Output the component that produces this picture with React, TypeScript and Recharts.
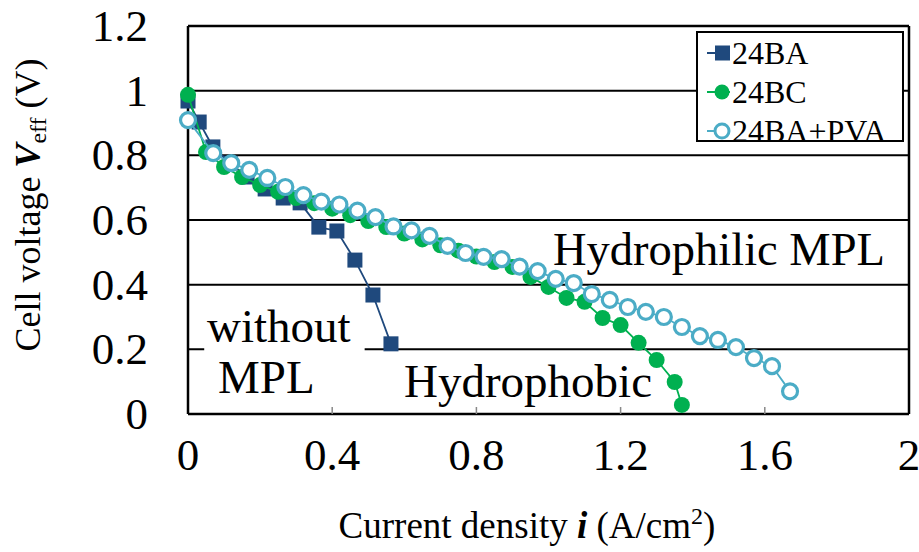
import React from "react";
import {
  ComposedChart,
  Scatter,
  XAxis,
  YAxis,
  CartesianGrid,
  ReferenceLine,
  ReferenceArea,
} from "recharts";

const FONT = "'Liberation Serif', 'Times New Roman', serif";

const xTicks = [0, 0.4, 0.8, 1.2, 1.6, 2];
const yTicks = [0, 0.2, 0.4, 0.6, 0.8, 1, 1.2];

const baX = [0, 0.031, 0.069, 0.117, 0.164, 0.214, 0.264, 0.311, 0.363, 0.413, 0.463, 0.513, 0.563];
const baY = [0.968, 0.903, 0.826, 0.776, 0.733, 0.696, 0.668, 0.653, 0.578, 0.566, 0.476, 0.368, 0.217];

const bcX = [0, 0.05, 0.1, 0.15, 0.2, 0.25, 0.3, 0.35, 0.4, 0.45, 0.5, 0.55, 0.6, 0.65, 0.7, 0.75, 0.8, 0.85, 0.9, 0.95, 1.0, 1.05, 1.1, 1.15, 1.2, 1.25, 1.3, 1.35, 1.37];
const bcY = [0.987, 0.81, 0.764, 0.733, 0.708, 0.687, 0.668, 0.652, 0.635, 0.615, 0.597, 0.578, 0.558, 0.54, 0.522, 0.505, 0.487, 0.47, 0.455, 0.424, 0.393, 0.359, 0.347, 0.297, 0.275, 0.22, 0.167, 0.099, 0.028];

const pvaX = [0, 0.07, 0.12, 0.17, 0.22, 0.27, 0.32, 0.37, 0.42, 0.47, 0.52, 0.57, 0.62, 0.67, 0.72, 0.77, 0.82, 0.87, 0.92, 0.97, 1.02, 1.07, 1.12, 1.17, 1.22, 1.27, 1.32, 1.37, 1.42, 1.47, 1.52, 1.57, 1.62, 1.67];
const pvaY = [0.909, 0.807, 0.776, 0.755, 0.73, 0.702, 0.677, 0.657, 0.648, 0.629, 0.609, 0.58, 0.568, 0.551, 0.52, 0.498, 0.486, 0.479, 0.456, 0.442, 0.418, 0.405, 0.371, 0.353, 0.331, 0.316, 0.3, 0.269, 0.241, 0.229, 0.207, 0.173, 0.148, 0.07];

const seriesNames = ["24BA", "24BC", "24BA+PVA"];
const colors = ["#1F497D", "#00B050", "#4BACC6"];

const zip = (xs: number[], ys: number[]) => xs.map((x, i) => ({ x, y: ys[i] }));
const baData = zip(baX, baY);
const bcData = zip(bcX, bcY);
const pvaData = zip(pvaX, pvaY);

const SquareShape = (props: any) => {
  const { cx, cy } = props;
  if (cx == null || cy == null) return null;
  return <rect x={cx - 7.5} y={cy - 7.5} width={15} height={15} fill={colors[0]} />;
};
const DotShape = (props: any) => {
  const { cx, cy } = props;
  if (cx == null || cy == null) return null;
  return <circle cx={cx} cy={cy} r={8} fill={colors[1]} />;
};
const RingShape = (props: any) => {
  const { cx, cy } = props;
  if (cx == null || cy == null) return null;
  return <circle cx={cx} cy={cy} r={7.5} fill="#fff" stroke={colors[2]} strokeWidth={3.2} />;
};

const XTick = (props: any) => {
  const { x, y, payload } = props;
  const v = payload.value;
  const inner = v > 0 && v < 2;
  return (
    <g>
      {inner && <line x1={x} x2={x} y1={y} y2={y - 7} stroke="#888" strokeWidth={1.5} />}
      <text x={x} y={y + 56} textAnchor="middle" fontFamily={FONT} fontSize={45} fill="#000">
        {String(v)}
      </text>
    </g>
  );
};

const YTick = (props: any) => {
  const { x, y, payload } = props;
  return (
    <text x={x} y={y + 15} textAnchor="end" fontFamily={FONT} fontSize={45} fill="#000">
      {String(payload.value)}
    </text>
  );
};

const LegendBox = () => {
  const rows = [53, 92, 131];
  return (
    <g transform="translate(696,31)">
      <rect x={1} y={1} width={206} height={109} fill="#fff" stroke="#000" strokeWidth={2} />
      {seriesNames.map((name, i) => {
        const cy = rows[i] - 31;
        return (
          <g key={name}>
            <line x1={11} x2={34} y1={cy} y2={cy} stroke={colors[i]} strokeWidth={2} />
            {i === 0 && <rect x={19} y={cy - 7.5} width={15} height={15} fill={colors[0]} />}
            {i === 1 && <circle cx={26} cy={cy} r={7.5} fill={colors[1]} />}
            {i === 2 && <circle cx={26} cy={cy} r={7} fill="#fff" stroke={colors[2]} strokeWidth={3} />}
            <text x={36} y={cy + 11} fontFamily={FONT} fontSize={32} fill="#000">
              {name}
            </text>
          </g>
        );
      })}
    </g>
  );
};

export default function App() {
  return (
    <div style={{ position: "absolute", left: 0, top: 0, width: 919, height: 552, background: "#fff" }}>
      <ComposedChart
        width={919}
        height={552}
        margin={{ top: 26, right: 10, bottom: 0, left: 0 }}
      >
        <CartesianGrid horizontal={true} vertical={false} stroke="#000" strokeWidth={2} />
        <XAxis
          type="number"
          dataKey="x"
          domain={[0, 2]}
          ticks={xTicks}
          height={138}
          tickSize={0}
          tickMargin={0}
          tick={<XTick />}
          axisLine={{ stroke: "#000", strokeWidth: 2.5 }}
          tickLine={false}
          interval={0}
        />
        <YAxis
          type="number"
          dataKey="y"
          domain={[0, 1.2]}
          ticks={yTicks}
          width={188}
          tickSize={0}
          tickMargin={40}
          tick={<YTick />}
          axisLine={{ stroke: "#000", strokeWidth: 2.5 }}
          tickLine={false}
          interval={0}
        />
        <ReferenceLine x={2} stroke="#000" strokeWidth={2.5} />
        <ReferenceLine y={1.2} stroke="#000" strokeWidth={2.5} />
        <ReferenceArea x1={0.045} x2={0.49} y1={0.06} y2={0.33} fill="#fff" fillOpacity={1} stroke="none" />
        <Scatter
          name={seriesNames[0]}
          data={baData}
          line={{ stroke: colors[0], strokeWidth: 1.8 }}
          lineType="joint"
          shape={<SquareShape />}
          isAnimationActive={false}
        />
        <Scatter
          name={seriesNames[1]}
          data={bcData}
          line={{ stroke: colors[1], strokeWidth: 1.8 }}
          lineType="joint"
          shape={<DotShape />}
          isAnimationActive={false}
        />
        <Scatter
          name={seriesNames[2]}
          data={pvaData}
          line={{ stroke: colors[2], strokeWidth: 1.8 }}
          lineType="joint"
          shape={<RingShape />}
          isAnimationActive={false}
        />
      </ComposedChart>
      <svg
        width={919}
        height={552}
        style={{ position: "absolute", left: 0, top: 0, pointerEvents: "none" }}
      >
        <LegendBox />
        <text x={553} y={265} fontFamily={FONT} fontSize={46.5} fill="#000">Hydrophilic MPL</text>
        <text x={207} y={342} fontFamily={FONT} fontSize={47} fill="#000">without</text>
        <text x={218} y={393} fontFamily={FONT} fontSize={47} fill="#000">MPL</text>
        <text x={404} y={397} fontFamily={FONT} fontSize={47} fill="#000">Hydrophobic</text>
        <text x={527} y={538} textAnchor="middle" fontFamily={FONT} fontSize={37} fill="#000">
          Current density{" "}
          <tspan fontWeight="bold" fontStyle="italic">i</tspan>
          {" (A/cm"}
          <tspan fontSize={24} dy={-14}>2</tspan>
          <tspan dy={14}>)</tspan>
        </text>
        <text
          transform="translate(40,205) rotate(-90)"
          textAnchor="middle"
          fontFamily={FONT}
          fontSize={36}
          fill="#000"
        >
          {"Cell voltage "}
          <tspan fontWeight="bold" fontStyle="italic">V</tspan>
          <tspan fontSize={24} dy={6}>eff</tspan>
          <tspan dy={-6}>{" (V)"}</tspan>
        </text>
      </svg>
    </div>
  );
}
